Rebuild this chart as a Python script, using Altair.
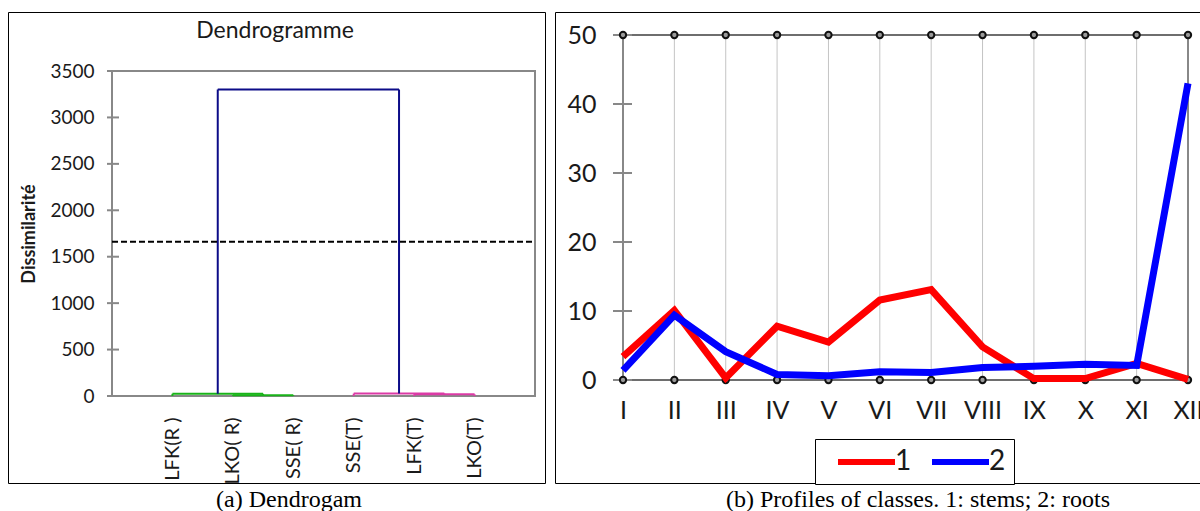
import json
import altair as alt
import pandas as pd

# ---------------- dendrogram data ----------------
leaf_labels = ["LFK(R )", "LKO( R)", "SSE( R)", "SSE(T)", "LFK(T)", "LKO(T)"]
# agglomeration steps: (node a, node b, height); leaves are 0-5, new nodes numbered from 6
merge_pairs = [(1, 2), (0, 6), (4, 5), (3, 8), (7, 9)]
merge_heights = [8, 24, 18, 26, 3300]
merge_group = ["A", "A", "B", "B", "top"]
cut_level = 1660
dis_ticks = [0, 500, 1000, 1500, 2000, 2500, 3000, 3500]

# ---------------- monthly profiles ----------------
months = ["I", "II", "III", "IV", "V", "VI", "VII", "VIII", "IX", "X", "XI", "XII"]
stems = [3.4, 10.1, 0.3, 7.8, 5.5, 11.6, 13.1, 4.8, 0.2, 0.2, 2.4, 0.1]
roots = [1.4, 9.4, 4.1, 0.8, 0.6, 1.2, 1.1, 1.8, 2.0, 2.3, 2.1, 43.0]
profile_ticks = [0, 10, 20, 30, 40, 50]

SANS = "Lato"
SERIF = "Liberation Serif"
INK = "#1a1a1a"
AXIS_GRAY = "#888888"

# ---------- dendrogram segments built from the merge table ----------
xpos = {i: i + 1 for i in range(len(leaf_labels))}
hgt = {i: 0 for i in range(len(leaf_labels))}
segs = []
for k, ((a, b), h, g) in enumerate(zip(merge_pairs, merge_heights, merge_group)):
    xa, xb = xpos[a], xpos[b]
    segs.append(dict(x=xa, x2=xa, y=hgt[a], y2=h, g=g))
    segs.append(dict(x=xb, x2=xb, y=hgt[b], y2=h, g=g))
    segs.append(dict(x=xa, x2=xb, y=h, y2=h, g=g))
    node = len(leaf_labels) + k
    xpos[node] = (xa + xb) / 2
    hgt[node] = h
seg_df = pd.DataFrame(segs)

XL = alt.Scale(domain=[0, 7], range=[112, 535], nice=False, zero=False)
YL = alt.Scale(domain=[0, 3500], range=[396, 71], nice=False, zero=False)

frame_l = pd.DataFrame({"x0": [0], "x1": [7], "y0": [0], "y1": [3500]})
leaf_expr = json.dumps(leaf_labels) + "[datum.value - 1]"

dendro_frame = alt.Chart(frame_l).mark_rect(
    fillOpacity=0, stroke=AXIS_GRAY, strokeWidth=2
).encode(
    x=alt.X("x0:Q", scale=XL, axis=alt.Axis(
        orient="bottom", offset=-115, values=list(range(1, 7)), labelExpr=leaf_expr,
        labelAngle=270, labelFont=SANS, labelFontSize=20, labelColor=INK,
        labelPadding=21, ticks=False, domain=False, grid=False, title=None)),
    x2="x1",
    y=alt.Y("y0:Q", scale=YL, axis=alt.Axis(
        orient="left", offset=-112, values=dis_ticks, format="d", ticks=False,
        tickSize=0, domain=False, grid=False, labelFont=SANS,
        labelFontSize=19, labelColor=INK, labelPadding=18, title="Dissimilarité",
        titleFont=SANS, titleFontSize=18, titleFontWeight="bold",
        titleColor=INK, titlePadding=11)),
    y2="y1",
)

ltick_df = pd.DataFrame({"v": dis_ticks, "m": 0})
dendro_ticks = alt.Chart(ltick_df).mark_rule(
    color=AXIS_GRAY, strokeWidth=2, xOffset=-5, x2Offset=7
).encode(x=alt.X("m:Q", scale=XL), x2="m", y=alt.Y("v:Q", scale=YL))

dendro_links = alt.Chart(seg_df).mark_rule(strokeWidth=2).encode(
    x=alt.X("x:Q", scale=XL), x2="x2",
    y=alt.Y("y:Q", scale=YL), y2="y2",
    color=alt.Color("g:N", scale=alt.Scale(domain=["A", "B", "top"],
                                          range=["#19b319", "#dc3aa6", "#0c0c88"]),
                    legend=None),
)

cut_df = pd.DataFrame({"v": [cut_level], "a": [0], "b": [7]})
dendro_cut = alt.Chart(cut_df).mark_rule(color="black", strokeWidth=2, strokeDash=[6, 3]).encode(
    x=alt.X("a:Q", scale=XL), x2="b", y=alt.Y("v:Q", scale=YL)
)

left = alt.layer(dendro_frame, dendro_ticks, dendro_links, dendro_cut)

# ---------- monthly profile panel ----------
XR = alt.Scale(domain=[1, 12], range=[623, 1188], nice=False, zero=False)
YR = alt.Scale(domain=[0, 50], range=[380, 35], nice=False, zero=False)
month_expr = json.dumps(months) + "[datum.value - 1]"
idx = list(range(1, len(months) + 1))

grid_df = pd.DataFrame({"m": idx[1:-1], "lo": 0, "hi": 50})
grid = alt.Chart(grid_df).mark_rule(color="#c4c4c4", strokeWidth=1).encode(
    x=alt.X("m:Q", scale=XR, axis=alt.Axis(
        orient="bottom", offset=-131, values=idx, labelExpr=month_expr,
        labelFont=SANS, labelFontSize=25, labelColor=INK, labelPadding=18,
        labelFlush=False, labelOverlap=False, ticks=False, tickSize=0,
        domain=False, grid=False, title=None)),
    y=alt.Y("lo:Q", scale=YR, axis=alt.Axis(
        orient="left", offset=-623, values=profile_ticks, labelFont=SANS,
        labelFontSize=25, labelColor=INK, labelPadding=27, ticks=False,
        tickSize=0, domain=False, grid=False, title=None)),
    y2="hi",
)

edge_df = pd.DataFrame({"m": [idx[0], idx[-1]], "lo": 0, "hi": 50})
edges = alt.Chart(edge_df).mark_rule(color=AXIS_GRAY, strokeWidth=2).encode(
    x=alt.X("m:Q", scale=XR), y=alt.Y("lo:Q", scale=YR), y2="hi"
)

hline_df = pd.DataFrame({"v": [0, 50], "a": idx[0], "b": idx[-1]})
hlines = alt.Chart(hline_df).mark_rule(color="#6e6e6e", strokeWidth=2).encode(
    x=alt.X("a:Q", scale=XR), x2="b", y=alt.Y("v:Q", scale=YR)
)

tick_df = pd.DataFrame({"v": profile_ticks, "m": idx[0]})
yticks = alt.Chart(tick_df).mark_rule(color=AXIS_GRAY, strokeWidth=2, xOffset=-10, x2Offset=9).encode(
    x=alt.X("m:Q", scale=XR), x2="m", y=alt.Y("v:Q", scale=YR)
)

marker_df = pd.DataFrame({"m": idx * 2, "v": [0] * len(idx) + [50] * len(idx)})
markers = alt.Chart(marker_df).mark_point(
    shape="circle", filled=True, fill="#9a9a9a", stroke="#111111",
    strokeWidth=2, size=40, opacity=1
).encode(x=alt.X("m:Q", scale=XR), y=alt.Y("v:Q", scale=YR))

prof_df = pd.DataFrame({
    "m": idx * 2,
    "v": stems + roots,
    "s": ["1"] * len(idx) + ["2"] * len(idx),
})
profiles = alt.Chart(prof_df).mark_line(strokeWidth=7).encode(
    x=alt.X("m:Q", scale=XR),
    y=alt.Y("v:Q", scale=YR),
    color=alt.Color("s:N", scale=alt.Scale(domain=["1", "2"], range=["#ff0000", "#0000ff"]),
                    legend=alt.Legend(
                        orient="none", legendX=815, legendY=439, direction="horizontal",
                        title=None, symbolType="M0,0H4.75", symbolSize=576,
                        symbolStrokeWidth=6, labelFont=SANS, labelFontSize=28,
                        labelColor=INK, labelOffset=42, columnPadding=5, padding=8,
                        strokeColor="black", fillColor="white")),
)

right = alt.layer(grid, edges, hlines, yticks, markers, profiles)

# ---------- panel frames, headings and captions ----------
box_l = alt.Chart().mark_rect(fillOpacity=0, stroke="black", strokeWidth=1).encode(
    x=alt.value(8.5), x2=alt.value(545.5), y=alt.value(12.5), y2=alt.value(483.5))
box_r = alt.Chart().mark_rect(fillOpacity=0, stroke="black", strokeWidth=1).encode(
    x=alt.value(555.5), x2=alt.value(1210), y=alt.value(12.5), y2=alt.value(483.5))
head_l = alt.Chart().mark_text(text="Dendrogramme", font=SANS, fontSize=23, color=INK,
                               align="center", baseline="middle").encode(
    x=alt.value(275), y=alt.value(31))
cap_a = alt.Chart().mark_text(text="(a) Dendrogam", font=SERIF, fontSize=24, color="black",
                              align="center", baseline="alphabetic").encode(
    x=alt.value(289), y=alt.value(507))
cap_b = alt.Chart().mark_text(text="(b) Profiles of classes. 1: stems; 2: roots", font=SERIF,
                              fontSize=24, color="black", align="center",
                              baseline="alphabetic").encode(
    x=alt.value(918), y=alt.value(507))

chart = alt.layer(left, right, box_l, box_r, head_l, cap_a, cap_b).resolve_scale(
    x="independent", y="independent", color="independent"
).properties(
    width=1200, height=511, autosize=alt.AutoSizeParams(type="none"), padding=0,
    background="white"
).configure_view(stroke=None)

chart.save("out.html", embed_options={"renderer": "svg", "actions": False})
